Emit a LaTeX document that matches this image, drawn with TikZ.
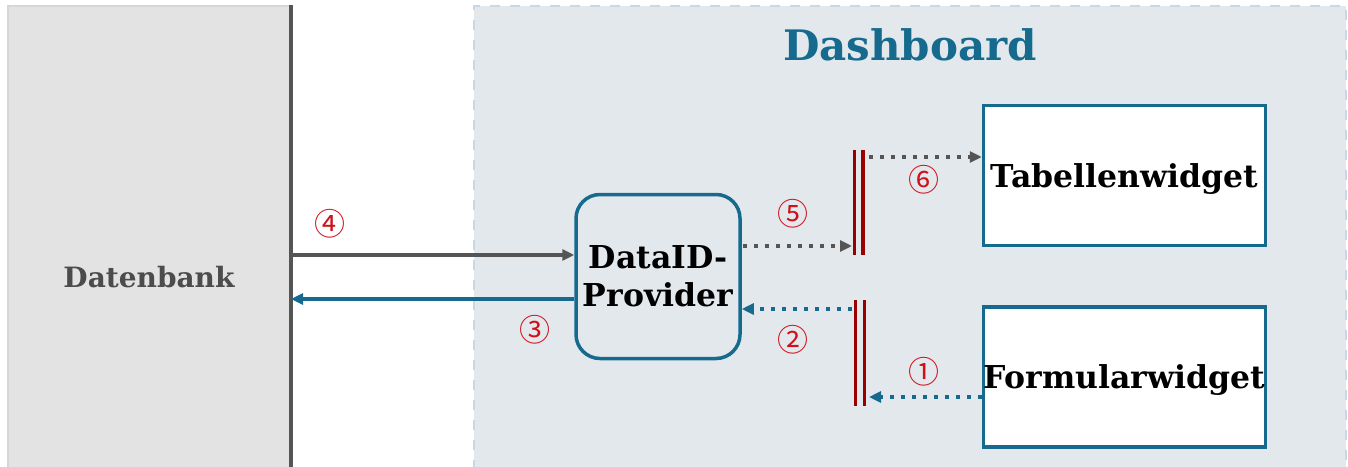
\documentclass[tikz,border=0pt]{standalone}
\usepackage{fontspec}
\setmainfont{DejaVu Serif}
\newfontfamily\circfont{Noto Sans CJK JP}
\usetikzlibrary{arrows.meta}
\definecolor{dbfill}{HTML}{E3E3E3}
\definecolor{dbedge}{HTML}{D6D6D6}
\definecolor{dashfill}{HTML}{E3E8ED}
\definecolor{dashedge}{HTML}{C9D8E4}
\definecolor{myblue}{HTML}{156A8E}
\definecolor{mygray}{HTML}{555555}
\definecolor{myred}{HTML}{990000}
\definecolor{numred}{HTML}{D0101A}
\tikzset{
  x=1pt, y=-1pt,
  widget/.style={draw=myblue, line width=3.5pt, fill=white, minimum width=282pt, minimum height=140pt, inner sep=0pt, text depth=0pt, font=\fontsize{31.5}{36}\selectfont\bfseries},
  provider/.style={draw=myblue, line width=3.5pt, fill=dashfill, rounded corners=24pt, minimum width=164pt, minimum height=164pt, align=center, font=\fontsize{31.5}{38}\selectfont\bfseries},
  num/.style={text=numred, font=\circfont\fontsize{31}{31}\selectfont, inner sep=0pt},
  solidarrow/.style={line width=3.2pt, -{Triangle[length=12pt,width=11pt]}},
  dotarrow/.style={line width=3.6pt, dash pattern=on 3.6pt off 7.4pt, -{Triangle[length=12pt,width=11pt]}},
  syncbar/.style={draw=myred, line width=3.2pt},
}
\begin{document}
\begin{tikzpicture}
\useasboundingbox (0,0) rectangle (1348,466);
% Datenbank area
\fill[dbfill, draw=dbedge, line width=1.5pt] (8,6) rectangle (291,470);
\draw[mygray, line width=3.5pt] (291,5) -- (291,470);
\node[text=mygray!90!black, font=\fontsize{28}{32}\selectfont\bfseries] (dblabel) at (149,277) {Datenbank};
% Dashboard area
\fill[dashfill] (474,6) rectangle (1346,470);
\draw[dashedge, line width=2pt, dash pattern=on 10pt off 10pt] (474,470) -- (474,6) -- (1346,6) -- (1346,470);
\node[text=myblue, font=\fontsize{42}{46}\selectfont\bfseries] (title) at (910,45) {Dashboard};
% nodes
\node[provider] (prov) at (658,276.5) {DataID-\\Provider};
\node[widget] (tab) at (1124.5,175.5) {Tabellenwidget};
\node[widget] (form) at (1124.5,377) {Formularwidget};
% db anchor coordinates
\coordinate (db4) at (291,255);
\coordinate (db3) at (291,299);
% sync bars
\coordinate (s1t) at (854.3,150); \coordinate (s1b) at (854.3,255);
\coordinate (s2t) at (863,150); \coordinate (s2b) at (863,255);
\coordinate (s3t) at (855.5,300); \coordinate (s3b) at (855.5,406);
\coordinate (s4t) at (864.3,300); \coordinate (s4b) at (864.3,406);
\draw[syncbar] (s1t) -- (s1b);
\draw[syncbar] (s2t) -- (s2b);
\draw[syncbar] (s3t) -- (s3b);
\draw[syncbar] (s4t) -- (s4b);
% arrows
\draw[solidarrow, mygray] (db4) -- (db4 -| prov.west);
\draw[solidarrow, myblue] (prov.west |- db3) -- (db3);
\coordinate (a5s) at (743,246); \coordinate (a5e) at (852,246);
\draw[dotarrow, mygray] (a5s) -- (a5e);
\coordinate (a6s) at (869,157);
\draw[dotarrow, mygray] (a6s) -- (a6s -| tab.west);
\coordinate (a2s) at (852,309);
\draw[dotarrow, myblue] (a2s) -- (a2s -| prov.east);
\coordinate (a1e) at (869,397);
\draw[dotarrow, myblue] (a1e -| form.west) -- (a1e);
% numbers
\node[num] (n4) at (330,224) {④};
\node[num] (n3) at (535,330) {③};
\node[num] (n5) at (793,214) {⑤};
\node[num] (n6) at (924,180) {⑥};
\node[num] (n2) at (793,340) {②};
\node[num] (n1) at (924,372) {①};
\end{tikzpicture}
\end{document}
